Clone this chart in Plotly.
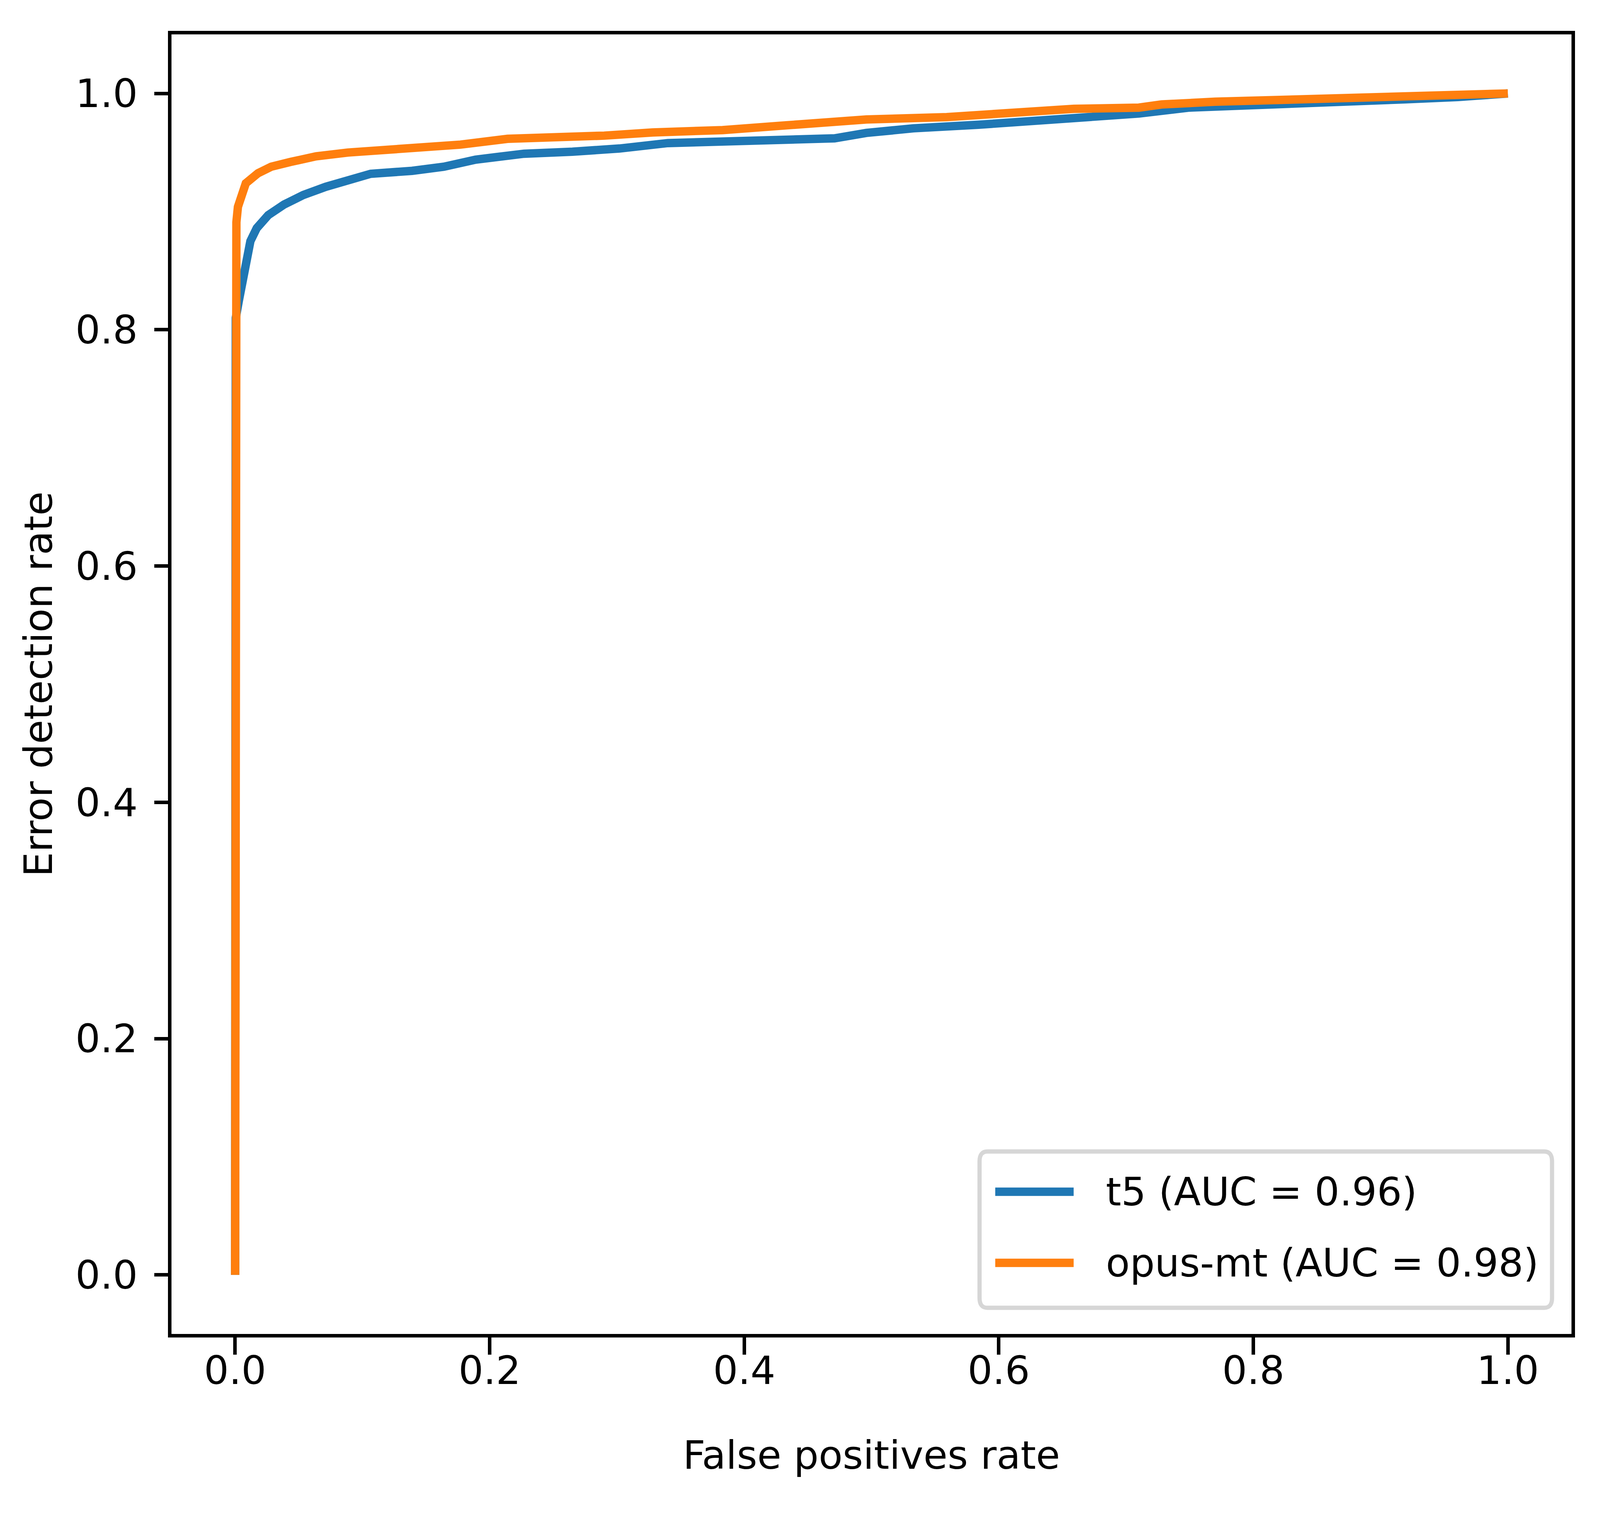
import plotly.graph_objects as go

# ---- data ----
series_names = ["t5 (AUC = 0.96)", "opus-mt (AUC = 0.98)"]
series_colors = ["#1f77b4", "#ff7f0e"]

fpr_t5 = [0.0, 0.0, 0.0005, 0.003, 0.005, 0.0083, 0.012, 0.017, 0.026, 0.0385,
          0.0535, 0.0712, 0.094, 0.1065, 0.139, 0.164, 0.189, 0.227, 0.265, 0.302,
          0.340, 0.378, 0.433, 0.471, 0.496, 0.533, 0.584, 0.621, 0.659, 0.710,
          0.749, 0.791, 0.834, 0.876, 0.919, 0.961, 0.982, 1.0]
tpr_t5 = [0.0, 0.79, 0.81, 0.825, 0.837, 0.858, 0.875, 0.886, 0.897, 0.906,
          0.914, 0.921, 0.928, 0.932, 0.9345, 0.938, 0.944, 0.949, 0.9507, 0.9534,
          0.958, 0.959, 0.9593, 0.962, 0.9666, 0.9705, 0.9735, 0.9765, 0.979, 0.983,
          0.988, 0.9894, 0.991, 0.993, 0.995, 0.997, 0.9995, 1.0]

fpr_opus = [0.0, 0.0005, 0.001, 0.0022, 0.0058, 0.0084, 0.018, 0.0284, 0.0434, 0.0636,
            0.0887, 0.114, 0.152, 0.177, 0.214, 0.252, 0.290, 0.328, 0.366, 0.383,
            0.433, 0.496, 0.559, 0.609, 0.659, 0.710, 0.728, 0.770, 0.834, 0.898,
            0.951, 1.0]
tpr_opus = [0.0, 0.875, 0.891, 0.904, 0.914, 0.924, 0.9325, 0.938, 0.942, 0.9468,
            0.950, 0.952, 0.9557, 0.9567, 0.9616, 0.9626, 0.9643, 0.967, 0.968, 0.969,
            0.973, 0.978, 0.980, 0.984, 0.987, 0.988, 0.9907, 0.993, 0.9953, 0.998,
            0.999, 1.0]

tick_vals = [0.0, 0.2, 0.4, 0.6, 0.8, 1.0]
tick_text = ["0.0", "0.2", "0.4", "0.6", "0.8", "1.0"]
x_title = "False positives rate"
y_title = "Error detection rate"

# ---- figure geometry, in reference pixels (5101 x 3885) ----
W, H = 5101, 3885
ML, MR, MT, MB = 547, 91, 88, 471
PW, PH = W - ML - MR, H - MT - MB
FONT = "DejaVu Sans"
FS = 125
LW = 24          # curve width
SPINE = 10       # axis line / tick width
TICKLEN = 44
X_STANDOFF, Y_STANDOFF = 127, 36
X_TLS, Y_TLS = -45, 28

fig = go.Figure()
for xs, ys, name, col in [(fpr_t5, tpr_t5, series_names[0], series_colors[0]),
                          (fpr_opus, tpr_opus, series_names[1], series_colors[1])]:
    fig.add_trace(go.Scatter(x=xs, y=ys, mode="lines", name=name,
                             line=dict(color=col, width=LW), showlegend=False))

axis_common = dict(range=[-0.05, 1.05], tickvals=tick_vals, ticktext=tick_text,
                   showgrid=False, zeroline=False, showline=True, mirror=True,
                   linecolor="black", linewidth=SPINE, ticks="outside", ticklen=TICKLEN,
                   tickwidth=SPINE, tickcolor="black",
                   tickfont=dict(family=FONT, size=FS, color="black"))

fig.update_layout(
    width=W, height=H,
    margin=dict(l=ML, r=MR, t=MT, b=MB, pad=0),
    paper_bgcolor="white", plot_bgcolor="white",
    font=dict(family=FONT, size=FS, color="black"),
    xaxis=dict(**axis_common, ticklabelstandoff=X_TLS,
               title=dict(text=x_title, font=dict(family=FONT, size=FS), standoff=X_STANDOFF)),
    yaxis=dict(**axis_common, ticklabelstandoff=Y_TLS,
               title=dict(text=y_title, font=dict(family=FONT, size=FS), standoff=Y_STANDOFF)),
    showlegend=False,
)

# ---- legend (matplotlib-style, lower right), positioned relative to the plot area ----
def px2paper(px, py):
    return (px - ML) / PW, (MT + PH - py) / PH

lx0, ly0 = px2paper(3123, 3347)
lx1, ly1 = px2paper(4948, 2947)
rx, ry = 25 / PW, 25 / PH
path = (f"M {lx0+rx},{ly0} L {lx1-rx},{ly0} Q {lx1},{ly0} {lx1},{ly0+ry} "
        f"L {lx1},{ly1-ry} Q {lx1},{ly1} {lx1-rx},{ly1} L {lx0+rx},{ly1} "
        f"Q {lx0},{ly1} {lx0},{ly1-ry} L {lx0},{ly0+ry} Q {lx0},{ly0} {lx0+rx},{ly0} Z")
fig.add_shape(type="path", path=path, xref="paper", yref="paper",
              line=dict(color="#d6d6d6", width=12), fillcolor="rgba(255,255,255,0.8)")

row_y = [3050, 3232]
for name, col, py in zip(series_names, series_colors, row_y):
    hx0, hy = px2paper(3173, py)
    hx1, _ = px2paper(3423, py)
    tx, _ = px2paper(3523, py)
    fig.add_shape(type="line", xref="paper", yref="paper", x0=hx0, x1=hx1, y0=hy, y1=hy,
                  line=dict(color=col, width=LW))
    fig.add_annotation(x=tx, y=hy, xref="paper", yref="paper", text=name, showarrow=False,
                       xanchor="left", yanchor="middle",
                       font=dict(family=FONT, size=FS, color="black"))

# ---- fit the reference layout to whatever viewport the page is opened in ----
post = f"""
document.body.style.margin = '0';
document.body.style.overflow = 'hidden';
var gd = document.getElementById('{{plot_id}}');
var VW = window.innerWidth, VH = window.innerHeight;
var sx = VW / {W}, sy = VH / {H};
var s = Math.min(sx, sy), sl = Math.sqrt(sx * sy);
gd.style.width = VW + 'px';
gd.style.height = VH + 'px';
var upd = {{
  width: VW, height: VH,
  'margin.l': {ML} * sx, 'margin.r': {MR} * sx, 'margin.t': {MT} * sy, 'margin.b': {MB} * sy,
  'font.size': {FS} * s,
  'xaxis.tickfont.size': {FS} * s, 'yaxis.tickfont.size': {FS} * s,
  'xaxis.title.font.size': {FS} * s, 'yaxis.title.font.size': {FS} * s,
  'xaxis.linewidth': {SPINE} * sl, 'yaxis.linewidth': {SPINE} * sl,
  'xaxis.tickwidth': {SPINE} * sl, 'yaxis.tickwidth': {SPINE} * sl,
  'xaxis.ticklen': {TICKLEN} * sy, 'yaxis.ticklen': {TICKLEN} * sx,
  'xaxis.title.standoff': {X_STANDOFF} * sy, 'yaxis.title.standoff': {Y_STANDOFF} * sx,
  'xaxis.ticklabelstandoff': Math.round({X_TLS} * sy), 'yaxis.ticklabelstandoff': Math.round({Y_TLS} * sx)
}};
var ann = gd.layout.annotations || [];
for (var i = 0; i < ann.length; i++) {{ upd['annotations[' + i + '].font.size'] = {FS} * s; }}
var shp = gd.layout.shapes || [];
for (var j = 0; j < shp.length; j++) {{ upd['shapes[' + j + '].line.width'] = shp[j].line.width * sl; }}
Plotly.restyle(gd, {{'line.width': {LW} * sl}});
return Plotly.relayout(gd, upd);
"""
fig.write_html("out.html", config={"displayModeBar": False}, post_script=post)
